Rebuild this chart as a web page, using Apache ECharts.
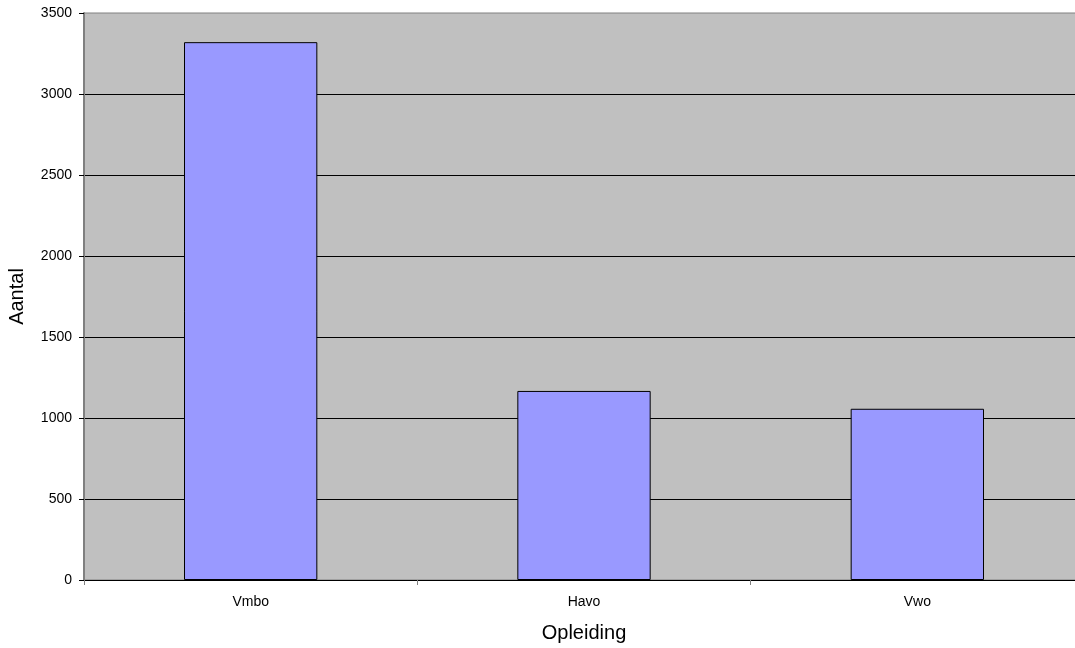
<!DOCTYPE html>
<html>
<head>
<meta charset="utf-8">
<script src="https://cdn.jsdelivr.net/npm/echarts@6/dist/echarts.min.js"></script>
<style>html,body{margin:0;padding:0;background:#fff;}#c{width:1075px;height:648px;}</style>
</head>
<body>
<div id="c"></div>
<script>
const categories = ['Vmbo', 'Havo', 'Vwo'];
const values = [3320, 1167, 1057];
const xAxisName = 'Opleiding';
const yAxisName = 'Aantal';

const FONT = 'Liberation Sans, Arial, sans-serif';
const chart = echarts.init(document.getElementById('c'), null, {renderer: 'canvas'});
chart.setOption({
  animation: false,
  backgroundColor: '#ffffff',
  textStyle: {fontFamily: FONT},
  grid: {
    left: 84, top: 13, width: 1000, height: 567,
    outerBoundsMode: 'none',
    containLabel: false,
    show: true, backgroundColor: '#C0C0C0', borderColor: '#808080', borderWidth: 1
  },
  xAxis: {
    type: 'category',
    data: categories,
    boundaryGap: true,
    name: xAxisName,
    nameLocation: 'middle',
    nameGap: 43,
    nameTextStyle: {fontSize: 20, color: '#000', fontFamily: FONT},
    axisLine: {lineStyle: {color: '#000', width: 1}},
    axisTick: {show: true, length: 5, lineStyle: {color: '#808080'}},
    axisLabel: {fontSize: 14, color: '#000', margin: 15, fontFamily: FONT},
    splitLine: {show: false}
  },
  yAxis: {
    type: 'value',
    min: 0, max: 3500, interval: 500,
    name: yAxisName,
    nameLocation: 'middle',
    nameRotate: 90,
    nameGap: 57,
    nameTextStyle: {fontSize: 20, color: '#000', fontFamily: FONT},
    axisLine: {show: true, lineStyle: {color: '#808080', width: 2}},
    axisTick: {show: true, length: 5, lineStyle: {color: '#000'}},
    axisLabel: {fontSize: 14, color: '#000', margin: 12, fontFamily: FONT,
      formatter: function (v) { return String(v); }},
    splitLine: {show: true, showMaxLine: false, lineStyle: {color: '#000', width: 1}}
  },
  series: [{
    type: 'bar',
    data: values,
    barWidth: '40%',
    itemStyle: {color: '#9999FF', borderColor: '#000', borderWidth: 1}
  }]
});
</script>
</body>
</html>
